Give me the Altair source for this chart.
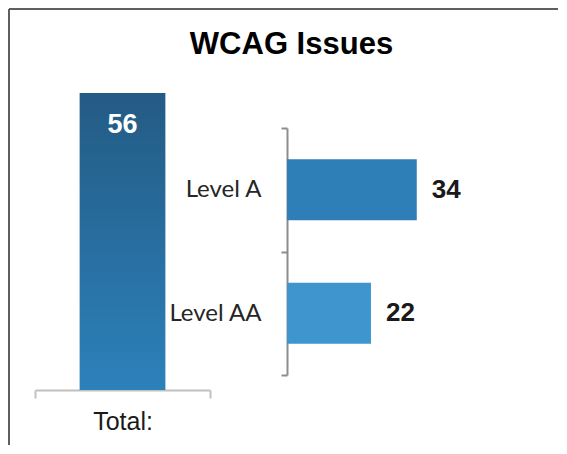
import altair as alt
import pandas as pd

# ---- data ----
chart_title = "WCAG Issues"
total_labels = ["Total:"]
total_values = [56]
levels = ["Level A", "Level AA"]
level_values = [34, 22]
level_colors = ["#2e7fb8", "#3f95cd"]

total_df = pd.DataFrame({"group": total_labels, "count": total_values})
level_df = pd.DataFrame({"level": levels, "count": level_values, "color": level_colors})

# ---- left: total bar ----
gradient = alt.Gradient(
    gradient="linear",
    stops=[alt.GradientStop(color="#235b84", offset=0),
           alt.GradientStop(color="#2c81bb", offset=1)],
    x1=0, x2=0, y1=0, y2=1,
)

x_total = alt.X(
    "group:N", title=None,
    scale=alt.Scale(paddingInner=0, paddingOuter=0),
    axis=alt.Axis(labelAngle=0, labelFont="Liberation Sans", labelFontSize=25,
                  labelColor="#1a1a1a", labelPadding=11,
                  domainColor="#c0c0c0", domainWidth=2,
                  tickColor="#c0c0c0", tickWidth=2, tickSize=8, tickBand="extent"),
)
y_total = alt.Y("count:Q", scale=alt.Scale(domain=[0, 56], nice=False), axis=None)

left_base = alt.Chart(total_df)
bar_total = left_base.mark_bar(color=gradient, width=alt.RelativeBandSize(0.49)).encode(
    x=x_total, y=y_total)
text_total = left_base.mark_text(
    baseline="top", dy=19, font="Liberation Sans", fontWeight="bold",
    fontSize=27, color="white",
).encode(x=x_total, y=y_total, text="count:Q")

frame_left = left_base.mark_rule(color="#5f5f5f", strokeWidth=2).encode(
    x=alt.value(-26), y=alt.value(-84), y2=alt.value(352))
frame_top = left_base.mark_rule(color="#5f5f5f", strokeWidth=2).encode(
    x=alt.value(-26), x2=alt.value(523), y=alt.value(-84))

left = alt.layer(bar_total, text_total, frame_left, frame_top).properties(width=175, height=297)

# ---- right: level bars ----
y_level = alt.Y(
    "level:N", title=None, sort=levels,
    scale=alt.Scale(range=[35, 282], paddingInner=0, paddingOuter=0),
    axis=alt.Axis(labelFont="Lato", labelFontSize=24, labelColor="#262626",
                  labelPadding=20, domainColor="#8c8c8c", domainWidth=2,
                  tickColor="#8c8c8c", tickWidth=2, tickSize=6, tickBand="extent"),
)
x_level = alt.X("count:Q", scale=alt.Scale(domain=[0, 52.4], nice=False), axis=None)

right_base = alt.Chart(level_df)
bars = right_base.mark_bar(height=alt.RelativeBandSize(0.494)).encode(
    x=x_level, y=y_level, color=alt.Color("color:N", scale=None))
bar_labels = right_base.mark_text(
    align="left", baseline="middle", dx=15, font="Liberation Sans",
    fontWeight="bold", fontSize=26, color="#1a1a1a",
).encode(x=x_level, y=y_level, text="count:Q")

right = alt.layer(bars, bar_labels).properties(width=200, height=297)

chart = alt.hconcat(left, right, spacing=77, bounds="flush").properties(
    title=alt.TitleParams(text=chart_title, font="Liberation Sans", fontSize=31,
                          fontWeight="bold", color="#000000", anchor="middle",
                          offset=-53, dx=8),
    padding=0,
).configure_view(stroke=None)

chart.save("out.html", embed_options={"renderer": "svg", "actions": False})
